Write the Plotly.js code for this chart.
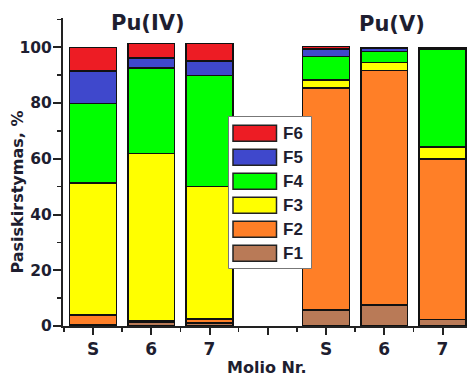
<!DOCTYPE html>
<html>
<head>
<meta charset="utf-8">
<script src="https://cdn.plot.ly/plotly-3.0.1.min.js"></script>
<style>html,body{margin:0;padding:0;background:#fff;}#chart{width:467px;height:376px;}</style>
</head>
<body>
<div id="chart"></div>
<script>
// ---- data ----
var groups = ['Pu(IV)', 'Pu(V)'];
var samples = ['S', '6', '7'];
var xPositions = [1, 2, 3, 5, 6, 7];          // Pu(IV): S,6,7 | gap | Pu(V): S,6,7
var tickPositions = [1, 2, 3, 4, 5, 6, 7];
var tickLabels = ['S', '6', '7', '', 'S', '6', '7'];
var seriesNames = ['F1', 'F2', 'F3', 'F4', 'F5', 'F6'];
var seriesColors = ['#b97a57', '#ff7f27', '#ffff00', '#00ff00', '#3f48cc', '#ed1c24'];
var F1 = [0.5, 1.5, 1.0, 5.7, 7.5, 2.4];
var F2 = [3.4, 0.4, 1.5, 79.6, 84.1, 57.6];
var F3 = [47.4, 59.9, 47.5, 3.0, 2.9, 4.3];
var F4 = [28.5, 30.7, 39.8, 8.3, 3.9, 35.1];
var F5 = [11.6, 3.7, 5.2, 2.7, 1.2, 0.3];
var F6 = [8.6, 5.1, 6.3, 0.9, 0.3, 0.3];
var seriesValues = [F1, F2, F3, F4, F5, F6];

// ---- geometry helpers (pixel -> paper) ----
var W = 467, H = 376, ML = 63, MR = 0, MT = 18, MB = 50;
var PW = W - ML - MR, PH = H - MT - MB;
function px(x) { return (x - ML) / PW; }
function py(y) { return (H - MB - y) / PH; }

var txt = '#1e1e30';
var traces = seriesNames.map(function (n, i) {
  return {
    type: 'bar', name: n, x: xPositions, y: seriesValues[i],
    width: 0.8,
    marker: { color: seriesColors[i], line: { color: '#111', width: 1.5 } },
    showlegend: false, hoverinfo: 'name+y'
  };
});

var minorX = [];
for (var k = 0; k <= tickPositions.length; k++) minorX.push(tickPositions[0] - 0.5 + k);

var shapes = [], annotations = [];
// custom legend box
shapes.push({ type: 'rect', xref: 'paper', yref: 'paper', layer: 'above',
  x0: px(228.5), x1: px(311.5), y0: py(268.5), y1: py(116.5),
  fillcolor: '#fff', line: { color: '#777', width: 1 } });
for (var j = 0; j < seriesNames.length; j++) {
  var idx = seriesNames.length - 1 - j;
  var cy = 133.3 + 24 * j;
  shapes.push({ type: 'rect', xref: 'paper', yref: 'paper', layer: 'above',
    x0: px(233), x1: px(276.5), y0: py(cy + 8), y1: py(cy - 8),
    fillcolor: seriesColors[idx], line: { color: '#222', width: 1.5 } });
  annotations.push({ xref: 'paper', yref: 'paper', x: px(281), y: py(cy + 0.5),
    xanchor: 'left', yanchor: 'middle', showarrow: false, text: seriesNames[idx],
    font: { family: 'Liberation Sans, Arial', size: 17, color: txt, weight: 700 } });
}
// group titles
var groupCenters = [[148, 22.5], [392, 24.5]];
groups.forEach(function (g, i) {
  annotations.push({ xref: 'paper', yref: 'paper', x: px(groupCenters[i][0]), y: py(groupCenters[i][1]),
    xanchor: 'center', yanchor: 'middle', showarrow: false, text: g,
    font: { family: 'DejaVu Sans', size: 21, color: txt, weight: 700 } });
});
// axis titles
annotations.push({ xref: 'paper', yref: 'paper', x: px(17), y: py(192.5), textangle: -90,
  xanchor: 'center', yanchor: 'middle', showarrow: false, text: 'Pasiskirstymas, %',
  font: { family: 'DejaVu Sans', size: 16, color: txt, weight: 700 } });
annotations.push({ xref: 'paper', yref: 'paper', x: px(266.5), y: py(367.5),
  xanchor: 'center', yanchor: 'middle', showarrow: false, text: 'Molio Nr.',
  font: { family: 'DejaVu Sans', size: 16, color: txt, weight: 700 } });

var layout = {
  width: W, height: H,
  margin: { l: ML, r: MR, t: MT, b: MB, pad: 0 },
  paper_bgcolor: '#fff', plot_bgcolor: '#fff',
  barmode: 'stack', showlegend: false,
  xaxis: {
    range: [0.485, 7.42], showgrid: false, zeroline: false,
    showline: true, linecolor: '#222', linewidth: 2,
    tickmode: 'array', tickvals: tickPositions, ticktext: tickLabels,
    ticks: 'outside', ticklen: 7, tickwidth: 2, tickcolor: '#222',
    tickfont: { family: 'DejaVu Sans', size: 17, color: txt, weight: 700 },
    minor: { tickmode: 'array', tickvals: minorX, ticks: 'outside', ticklen: 4, tickwidth: 1.5, tickcolor: '#222' },
    fixedrange: true
  },
  yaxis: {
    range: [0, 110.5], showgrid: false, zeroline: false,
    showline: true, linecolor: '#222', linewidth: 2,
    tickmode: 'linear', tick0: 0, dtick: 20,
    ticks: 'outside', ticklen: 8, tickwidth: 2, tickcolor: '#222',
    ticklabelstandoff: -2,
    tickfont: { family: 'DejaVu Sans', size: 15.5, color: txt, weight: 700 },
    minor: { tick0: 0, dtick: 10, ticks: 'outside', ticklen: 4, tickwidth: 1.5, tickcolor: '#222' },
    fixedrange: true
  },
  shapes: shapes,
  annotations: annotations
};

Plotly.newPlot('chart', traces, layout, { displayModeBar: false, staticPlot: true });
</script>
</body>
</html>
